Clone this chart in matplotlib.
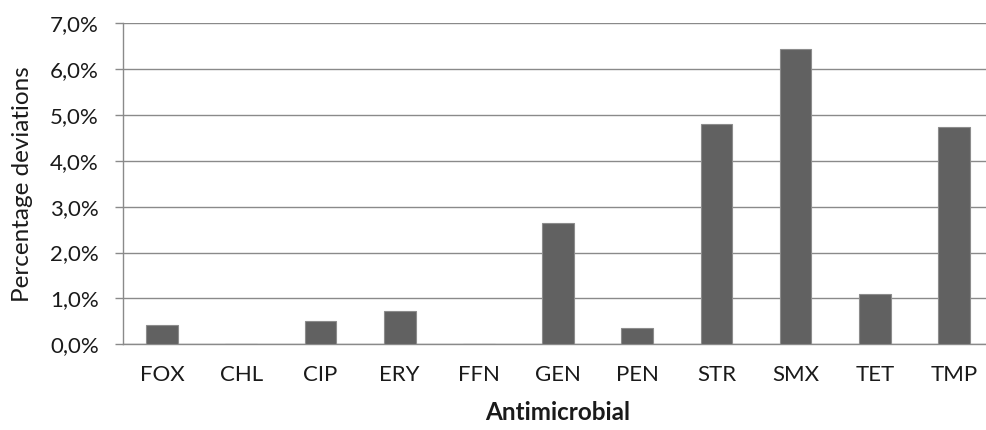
import matplotlib
matplotlib.use("Agg")
import matplotlib.pyplot as plt
from matplotlib.ticker import FuncFormatter

categories = ["FOX", "CHL", "CIP", "ERY", "FFN", "GEN", "PEN", "STR", "SMX", "TET", "TMP"]
values = [0.42, 0.0, 0.51, 0.73, 0.0, 2.65, 0.36, 4.80, 6.43, 1.09, 4.74]
y_ticks = [0, 1, 2, 3, 4, 5, 6, 7]

plt.rcParams['font.family'] = ['Lato', 'DejaVu Sans']

W, H = 986, 430
ax_left, ax_right, ax_top, ax_bottom = 122.5, 993.6, 23.3, 344.3

fig = plt.figure(figsize=(W/100, H/100), dpi=100)
ax = fig.add_axes([ax_left/W, 1 - ax_bottom/H, (ax_right-ax_left)/W, (ax_bottom-ax_top)/H])

x = list(range(len(categories)))
ax.bar(x, values, width=0.4, color="#616161", edgecolor="#8c8c8c", linewidth=0.8, zorder=3)

ax.set_xlim(-0.5, len(categories) - 0.5)
ax.set_ylim(0, 7)
ax.set_yticks(y_ticks)
ax.yaxis.set_major_formatter(FuncFormatter(lambda v, p: f"{v:.1f}%".replace(".", ",")))
ax.set_xticks(x)
ax.set_xticklabels(categories)

ax.grid(axis="y", color="#8a8a8a", linewidth=1.0, zorder=0)
for s in ["top", "right"]:
    ax.spines[s].set_visible(False)
for s in ["left", "bottom"]:
    ax.spines[s].set_color("#8a8a8a")
    ax.spines[s].set_linewidth(1.0)

ax.tick_params(axis="y", length=6, width=1.0, color="#8a8a8a", pad=11, labelsize=16, labelcolor="#1a1a1a")
ax.tick_params(axis="x", length=0, pad=15, labelsize=16, labelcolor="#1a1a1a")

ax.set_ylabel("Percentage deviations", fontsize=17.5, color="#1a1a1a", va="center")
ax.yaxis.set_label_coords((23 - ax_left)/(ax_right-ax_left), 0.5)
ax.set_xlabel("Antimicrobial", fontsize=17.5, fontweight="bold", color="#1a1a1a", va="center")
ax.xaxis.set_label_coords(0.5, (ax_bottom - 413)/(ax_bottom-ax_top))

fig.savefig("out.png", dpi=100)
